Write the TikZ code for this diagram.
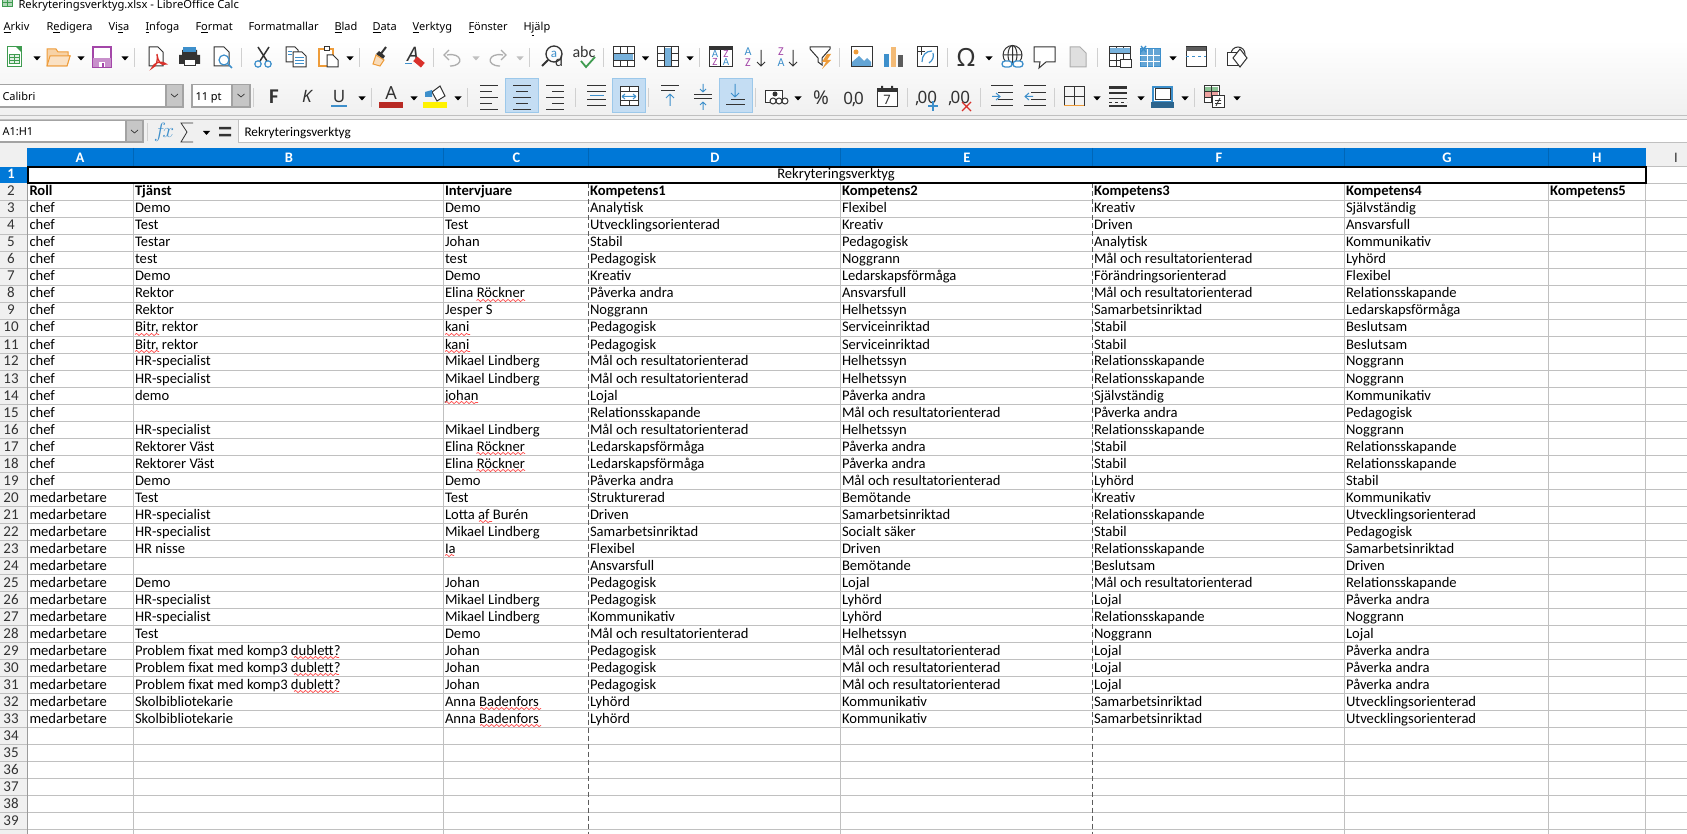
\documentclass[tikz,border=0pt]{standalone}
\usepackage{fontspec}
\setmainfont{Carlito}
\newfontfamily\uifont{Noto Sans}
\usetikzlibrary{decorations.pathmorphing}
\definecolor{gridgray}{HTML}{C0C0C0}
\definecolor{sepgray}{HTML}{D0D0D0}
\definecolor{barbg}{HTML}{F0F0F0}
\definecolor{headblue}{HTML}{0078D7}
\definecolor{hlfill}{HTML}{C4DDF3}
\definecolor{hlline}{HTML}{9CC8EA}
\definecolor{iconblue}{HTML}{3D8FCB}
\definecolor{iconorange}{HTML}{EE9C3A}
\definecolor{iconpurple}{HTML}{A346A8}
\definecolor{icongreen}{HTML}{3E9B4F}
\definecolor{icondark}{HTML}{333333}
\definecolor{iconred}{HTML}{D9312B}
\tikzset{
  cell/.style={anchor=base west,inner sep=0pt,font=\fontsize{14.6}{17}\selectfont},
  cellbold/.style={cell,font=\fontsize{14.6}{17}\selectfont\bfseries},
  rownum/.style={anchor=base,inner sep=0pt,text=icondark,font=\fontsize{15}{17}\selectfont},
  colnum/.style={anchor=base,inner sep=0pt,text=white,font=\fontsize{14.5}{17}\selectfont\bfseries},
  menuitem/.style={anchor=base west,inner sep=0pt,text=black,font=\uifont\fontsize{11}{14}\selectfont},
  uitext/.style={anchor=base west,inner sep=0pt,text=black,font=\fontsize{14}{17}\selectfont},
  squiggle/.style={draw=red!70!white,line width=.7pt,decorate,decoration={snake,amplitude=1.1pt,segment length=5pt}},
  icon/.style={draw=icondark,line width=1pt},
  combo/.style={fill=white,draw=gridgray!85!black,line width=1.6pt},
  combobtn/.style={fill=gridgray!90!white,draw=gridgray!85!black,line width=1.6pt}
}
\begin{document}
\begin{tikzpicture}[x=1pt,y=-1pt,line width=1pt]
\useasboundingbox (0,0) rectangle (1687,834);
\clip (0,0) rectangle (1687,834);
\fill[white] (0,0) rectangle (1687,834);
\shade[top color=white,bottom color=barbg] (0,40) rectangle (1687,116);

% title and menu
\fill[icongreen!40!white] (2,0) rectangle (12,7);
\draw[icongreen] (2,-1) rectangle (12,7) (2,3) -- (12,3) (7,0) -- (7,7);
\node[menuitem,font=\uifont\fontsize{11.2}{14}\selectfont] (title) at (18,8.5) {Rekryteringsverktyg.xlsx - LibreOffice Calc};
\node[menuitem] (arkiv) at (3,31) {\underline{A}rkiv};
\node[menuitem] (redigera) at (46,31) {R\underline{e}digera};
\node[menuitem] (visa) at (108,31) {Vi\underline{s}a};
\node[menuitem] (infoga) at (145,31) {\underline{I}nfoga};
\node[menuitem] (format) at (195,31) {F\underline{o}rmat};
\node[menuitem] (formatmallar) at (248,31) {Formatmallar};
\node[menuitem] (blad) at (334,31) {\underline{B}lad};
\node[menuitem] (data) at (372,31) {\underline{D}ata};
\node[menuitem] (verktyg) at (412,31) {\underline{V}erktyg};
\node[menuitem] (fonster) at (468,31) {\underline{F}önster};
\node[menuitem] (hjalp) at (523,31) {H\underline{j}älp};

% separators and dropdown arrows
\foreach \x in {134,241,359,433,529,603,699.5,839,947,1097.5,1215}
  \draw[sepgray] (\x,48) -- (\x,67);
\foreach \x in {253,371,467,575,648.5,755.5,907,980.5,1054,1194.5}
  \draw[sepgray] (\x,88) -- (\x,107);
\foreach \x/\y in {37/58,81/58,125/58,350/58,645.5/58,690/58,989/58,1173/58,362/98,414/98,458/98,798/98,1097/98,1141/98,1185/98,1237/98}
  \fill[black] (\x-3.5,\y-1.5) -- (\x+3.5,\y-1.5) -- (\x,\y+2.5) -- cycle;
\foreach \x in {476,520}
  \fill[gridgray] (\x-3.5,56.5) -- (\x+3.5,56.5) -- (\x,60.5) -- cycle;

% first toolbar
\draw[icongreen,fill=white] (7,47) rectangle (21,67);
\fill[icongreen] (16,47) -- (21,47) -- (21,52) -- cycle;
\draw[icongreen,fill=icongreen!15!white] (9,55) rectangle (19,64) (9,58) -- (19,58) (9,61) -- (19,61) (14,55) -- (14,64);
\draw[iconorange,fill=iconorange!45!white] (47,66) -- (47,49) -- (56,49) -- (58,52) -- (68,52) -- (68,56) -- (70,56) -- (67,66) -- cycle;
\draw[iconorange,fill=iconorange!30!white] (47,66) -- (50,56) -- (70,56) -- (67,66) -- cycle;
\draw[iconpurple,line width=1.4pt,fill=white] (93,47) rectangle (111,67);
\fill[iconpurple!60!white] (93,58) rectangle (111,67);
\fill[white] (99,62) rectangle (105,67);
\fill[iconpurple] (102,63) rectangle (104,67);
\draw[icon,fill=white] (149,47) -- (158,47) -- (163,52) -- (163,66) -- (149,66) -- cycle;
\draw[iconred,line width=1.3pt] (157,54) .. controls (158,62) and (161,66) .. (166,64) .. controls (160,60) and (154,63) .. (152,68) .. controls (157,66) and (158,60) .. (157,54);
\fill[icondark] (182,50) rectangle (197,55) (179,55) rectangle (200,64);
\fill[iconblue] (183,47) rectangle (196,52);
\draw[white,fill=white] (184,60) rectangle (195,67);
\draw[icondark] (184,60) rectangle (195,66);
\draw[icon,fill=white] (214,47) -- (224,47) -- (229,52) -- (229,66) -- (214,66) -- cycle;
\draw[iconblue,line width=1.2pt,fill=white] (224,60) circle (5);
\draw[iconblue,line width=1.5pt] (228,64) -- (232,68);
\draw[icondark,line width=1.5pt] (258,47) -- (267,61) (269,47) -- (260,61);
\draw[iconblue,line width=1.2pt] (258,64) circle (3.2) (268,64) circle (3.2);
\draw[icon,fill=white] (286,47) -- (295,47) -- (298,50) -- (298,62) -- (286,62) -- cycle;
\draw[icon,fill=white] (293,52) -- (302,52) -- (306,56) -- (306,67) -- (293,67) -- cycle;
\draw[iconblue] (295,58) -- (304,58) (295,61) -- (304,61) (295,64) -- (304,64) (288,52) -- (292,52) (288,55) -- (292,55);
\draw[iconorange,fill=white,line width=1.2pt] (319,49) rectangle (333,66);
\draw[icondark,fill=white] (324,47) rectangle (329,51);
\draw[icondark,fill=white] (327,55) -- (333,55) -- (338,60) -- (338,67) -- (327,67) -- cycle;
\draw[icondark,line width=2pt] (386,47) -- (380,55);
\fill[icondark] (376,54) -- (383,59) -- (385,56) -- (379,51) -- cycle;
\draw[iconorange,fill=iconorange!35!white] (376,55) -- (384,60) -- (380,66) -- (373,64) -- cycle;
\node[inner sep=0pt,anchor=base,text=icondark,font=\uifont\itshape\fontsize{20}{20}\selectfont] (clearletter) at (413,62) {A};
\draw[iconblue] (405,64) -- (412,64);
\fill[iconred,rotate around={-40:(419,62)}] (414,59) rectangle (424,65);
\draw[gridgray!90!black,line width=1.3pt] (447,55) .. controls (462,52) and (465,66) .. (450,66);
\draw[gridgray!90!black,line width=1.3pt] (449,50) -- (444,55) -- (449,60);
\draw[gridgray!90!black,line width=1.3pt] (503,55) .. controls (488,52) and (485,66) .. (500,66);
\draw[gridgray!90!black,line width=1.3pt] (501,50) -- (506,55) -- (501,60);
\draw[icondark,line width=1.3pt] (554,54) circle (8);
\draw[icondark,line width=2pt] (548,60) -- (542,66);
\node[inner sep=0pt,anchor=base,text=iconblue,font=\fontsize{13}{13}\selectfont] (finda) at (554,58) {a};
\node[inner sep=0pt,anchor=base,text=icondark,font=\fontsize{15}{15}\selectfont] (findd) at (559,67) {d};
\node[inner sep=0pt,anchor=base west,text=icondark,font=\fontsize{16}{16}\selectfont] (abc) at (572,58) {abc};
\draw[icongreen,line width=1.8pt] (581,61) -- (586,67) -- (595,57);

% table and sort icons
\foreach \x in {613,657,1109}{
  \draw[icon,fill=white] (\x,47) rectangle (\x+21,67);
  \draw[icondark,line width=.7pt] (\x,53.5) -- (\x+21,53.5) (\x,60) -- (\x+21,60) (\x+7,47) -- (\x+7,67) (\x+14,47) -- (\x+14,67);
}
\fill[iconblue!70!white] (614,54) rectangle (633,60);
\fill[iconblue!70!white] (664.5,48) rectangle (671,66);
\fill[iconblue!70!white] (1110,48) rectangle (1130,53);
\draw[icon,fill=white] (1120,60) rectangle (1131,68);
\draw[icon,fill=white] (709,47) rectangle (732,67);
\fill[icondark] (709,47) rectangle (732,50);
\draw (720.5,50) -- (720.5,67);
\node[inner sep=0pt,anchor=base,text=iconblue,font=\fontsize{11}{11}\selectfont] (sortA) at (715,58) {A};
\node[inner sep=0pt,anchor=base,text=iconpurple,font=\fontsize{11}{11}\selectfont] (sortB) at (715,66) {Z};
\node[inner sep=0pt,anchor=base,text=iconpurple,font=\fontsize{11}{11}\selectfont] (sortC) at (726,58) {Z};
\node[inner sep=0pt,anchor=base,text=iconblue,font=\fontsize{11}{11}\selectfont] (sortD) at (726,66) {A};
\node[inner sep=0pt,anchor=base,text=iconblue,font=\fontsize{12}{12}\selectfont] (ascA) at (748,56) {A};
\node[inner sep=0pt,anchor=base,text=iconpurple,font=\fontsize{12}{12}\selectfont] (ascZ) at (748,67) {Z};
\node[inner sep=0pt,anchor=base,text=iconpurple,font=\fontsize{12}{12}\selectfont] (descZ) at (781,56) {Z};
\node[inner sep=0pt,anchor=base,text=iconblue,font=\fontsize{12}{12}\selectfont] (descA) at (781,67) {A};
\foreach \x in {761,793}{
  \draw[icondark] (\x,50) -- (\x,66) (\x-4,62) -- (\x,66) -- (\x+4,62);
}
\draw[icon,fill=white] (810,47) -- (830,47) -- (830,49) -- (822,58) -- (822,65) -- (818,62) -- (818,58) -- (810,49) -- cycle;
\fill[iconorange] (827,54) -- (822,62) -- (826,62) -- (822,69) -- (831,60) -- (827,60) -- (831,54) -- cycle;

% insert icons
\draw[icon,fill=white] (851,47) rectangle (872,67);
\fill[iconblue!80!white] (852,66) -- (852,62) -- (859,56) -- (864,61) -- (867,58) -- (871,62) -- (871,66) -- cycle;
\fill[iconorange] (856,52) circle (2.5);
\fill[iconblue] (884,54) rectangle (889,67);
\fill[iconorange!70!white] (891,47) rectangle (896,67);
\fill[icondark!80!white] (898,55) rectangle (903,67);
\draw[icon,fill=white] (917,47) rectangle (937,67);
\draw[iconblue,line width=1.2pt] (922,62) .. controls (922,55) and (926,51) .. (932,51) (929,63) .. controls (933,60) and (934,57) .. (933,53);
\draw[icondark,line width=.7pt] (917,51) -- (925,51) (921,47) -- (921,55);
\node[inner sep=0pt,anchor=base,text=icondark,font=\uifont\fontsize{25}{25}\selectfont] (omega) at (966,67) {Ω};
\draw[icondark] (1012.5,55) circle (9.5) (1003,55) -- (1022,55) (1012.5,46) -- (1012.5,64);
\draw[icondark] (1012.5,55) ellipse (4.5 and 9.5);
\draw[iconblue,line width=1.3pt,fill=white,rounded corners=3pt] (1002,61) rectangle (1012,67) (1013,61) rectangle (1023,67);
\draw[icon,fill=white] (1034,47) -- (1055,47) -- (1055,62) -- (1046,62) -- (1039,68) -- (1040,62) -- (1034,62) -- cycle;
\draw[gridgray!90!black,fill=gridgray!50!white] (1070,47) -- (1080,47) -- (1086,53) -- (1086,67) -- (1070,67) -- cycle;
\draw[iconblue,fill=iconblue!80!white] (1140,49) rectangle (1160,67);
\draw[white,line width=.7pt] (1140,55) -- (1160,55) (1140,61) -- (1160,61) (1147,49) -- (1147,67) (1153,49) -- (1153,67);
\draw[iconblue,line width=1.3pt] (1141,46) -- (1146,52) (1146,46) -- (1141,52);
\draw[icon,fill=white] (1186,47) rectangle (1206,67);
\fill[icondark!80!white] (1186,47) rectangle (1206,51);
\draw[iconblue,dashed] (1186,57) -- (1206,57);
\draw[icon,fill=white] (1238,54) circle (7);
\draw[icon,fill=white] (1227,53) rectangle (1239,66);
\draw[icon,fill=white] (1240,49) -- (1247,58) -- (1240,67) -- (1233,58) -- cycle;

% second toolbar
\draw[combo] (-2,84.5) rectangle (183,107);
\draw[combobtn] (166,84.5) rectangle (183,107);
\draw[combo] (192,84.5) rectangle (250,107);
\draw[combobtn] (232,84.5) rectangle (250,107);
\foreach \x in {174.5,241}
  \draw[icondark,line width=.7pt] (\x-3.5,94) -- (\x,97) -- (\x+3.5,94);
\node[menuitem] (fontname) at (2,101) {Calibri};
\node[menuitem] (fontsize) at (195,101) {11 pt};
\node[inner sep=0pt,anchor=base,text=icondark,font=\bfseries\fontsize{21}{21}\selectfont] (bold) at (274,104) {F};
\node[inner sep=0pt,anchor=base,text=icondark,font=\uifont\itshape\fontsize{17}{17}\selectfont] (italic) at (307,103) {K};
\node[inner sep=0pt,anchor=base,text=icondark,font=\uifont\fontsize{17}{17}\selectfont] (under) at (339,103) {U};
\draw[iconblue,line width=1.2pt] (331,106) -- (347,106);
\node[inner sep=0pt,anchor=base,text=icondark,font=\uifont\fontsize{18}{18}\selectfont] (fontcolor) at (391,100) {A};
\fill[iconred!85!black] (379,102) rectangle (403,108);
\draw[icondark,fill=white] (432,92) -- (440,86) -- (445,96) -- (437,101) -- cycle;
\fill[iconblue] (425,92) -- (432,90) -- (432,97) -- (425,97) -- cycle;
\fill[yellow] (423,102) rectangle (447,108);
\fill[hlfill,draw=hlline] (505,79) rectangle (538,113);
\fill[hlfill,draw=hlline] (612,79) rectangle (645,113);
\fill[hlfill,draw=hlline] (719,79) rectangle (752,113);
% text alignment lines
\foreach \y/\w in {86/18,92/12,98/18,104/12,110/18}{
  \draw[icondark] (480,\y) -- (480+\w,\y);
  \draw[icondark] (522-\w/2,\y) -- (522+\w/2,\y);
  \draw[icondark] (564-\w,\y) -- (564,\y);
}
\foreach \y in {86,92,100,106}
  \draw[icondark] (587,\y) -- (606,\y);
\draw[iconblue] (590,96) -- (604,96);
\draw[icon,fill=white] (620,87) rectangle (638,106);
\draw[icondark] (620,92) -- (638,92) (620,101) -- (638,101) (629,87) -- (629,92) (629,101) -- (629,106);
\draw[iconblue] (622,96.5) -- (636,96.5) (622,96.5) -- (625,94) (622,96.5) -- (625,99) (636,96.5) -- (633,94) (636,96.5) -- (633,99);
\draw[icondark] (661,86) -- (679,86) (661,91) -- (675,91);
\draw[iconblue] (670,106) -- (670,94) (666,98) -- (670,94) (674,98) -- (670,94);
\draw[icondark] (694,95) -- (712,95) (694,99) -- (712,99);
\draw[iconblue] (703,84) -- (703,92) (700,89) -- (703,92) (706,89) -- (703,92) (703,110) -- (703,102) (700,105) -- (703,102) (706,105) -- (703,102);
\draw[iconblue] (735,84) -- (735,97) (731,93) -- (735,97) (739,93) -- (735,97);
\draw[icondark] (731,100) -- (745,100) (726,105) -- (745,105);
\draw[icon,fill=white] (765,91) rectangle (782,103);
\fill[icondark] (775,94) circle (2.5);
\draw[icondark,fill=white] (773,101) circle (3) (779,101) circle (3) (785,101) circle (3);
\node[inner sep=0pt,anchor=base,text=icondark,font=\uifont\fontsize{19}{19}\selectfont] (percent) at (821,105) {\%};
\node[inner sep=0pt,anchor=base,text=icondark,font=\uifont\fontsize{17}{17}\selectfont] (number) at (853.5,105) {0\kern-1pt,\kern-2.5pt0};
\draw[icon,fill=white] (877,89) rectangle (897,107);
\fill[icondark] (877,89) rectangle (897,92) (881,86) rectangle (883,90) (891,86) rectangle (893,90);
\node[inner sep=0pt,anchor=base,text=icondark,font=\uifont\fontsize{13}{13}\selectfont] (date) at (887,105) {7};
\node[inner sep=0pt,anchor=base,text=icondark,font=\uifont\fontsize{17}{17}\selectfont] (adddec) at (926,104) {,\kern-2pt00};
\draw[iconblue,line width=1.3pt] (933,101) -- (933,111) (928,106) -- (938,106);
\node[inner sep=0pt,anchor=base,text=icondark,font=\uifont\fontsize{17}{17}\selectfont] (deldec) at (959,104) {,\kern-2pt00};
\draw[iconred,line width=1.3pt] (962,102) -- (971,111) (971,102) -- (962,111);
\foreach \y/\a in {86/0,93/7,100/7,106/0}{
  \draw[icondark] (991+\a,\y) -- (1013,\y);
  \draw[icondark] (1024+\a,\y) -- (1046,\y);
}
\draw[iconblue] (992,96.5) -- (1000,96.5) (996,93) -- (1000,96.5) -- (996,100);
\draw[iconblue] (1025,96.5) -- (1033,96.5) (1029,93) -- (1025,96.5) -- (1029,100);
\draw[icondark] (1064,87) -- (1084,87) -- (1084,106) (1064,106) -- (1064,87) (1064,96.5) -- (1084,96.5) (1074,87) -- (1074,106);
\draw[iconorange] (1064,106) -- (1084,106);
\draw[icondark,line width=3pt] (1109,88) -- (1127,88);
\draw[icondark,line width=2pt] (1109,93.5) -- (1127,93.5);
\draw[icondark] (1109,98.5) -- (1127,98.5);
\draw[icondark,dashed] (1109,102.5) -- (1127,102.5);
\draw[icondark,line width=1.5pt] (1109,106) -- (1127,106);
\draw[iconblue,line width=1.2pt,fill=white] (1153,87) rectangle (1172,102);
\draw[icondark] (1155,89) rectangle (1170,100);
\fill[iconblue!70!black] (1150.5,102) rectangle (1174,108);
\draw[icon,fill=white] (1204,86) rectangle (1219,103);
\fill[icongreen!60!white] (1205,87) rectangle (1218,91);
\fill[iconred!45!white] (1205,92) rectangle (1218,97);
\draw[icondark,line width=.7pt] (1204,91.5) -- (1219,91.5) (1204,97) -- (1219,97) (1211,86) -- (1211,103);
\draw[icon,fill=white] (1212,96) rectangle (1224,108);
\draw[icondark,line width=.8pt] (1215,100.5) -- (1221,100.5) (1215,103.5) -- (1221,103.5) (1216,106) -- (1220,98);

% formula bar
\fill[barbg] (0,116) rectangle (1687,148);
\draw[gridgray] (0,116) -- (1687,116) (0,120) -- (1687,120);
\draw[combo] (-2,120.5) rectangle (143,142);
\draw[combobtn] (126,120.5) rectangle (143,142);
\draw[icondark,line width=.7pt] (131,130) -- (134.5,133) -- (138,130);
\node[menuitem] (namebox) at (2,136) {A1:H1};
\draw[sepgray] (147,123) -- (147,141);
\node[inner sep=0pt,anchor=base,text=iconblue,font=\itshape\fontsize{20}{20}\selectfont] (fx) at (164,138) {$f\!x$};
\draw[icondark,line width=.8pt] (193,123) -- (181,123) -- (187,132) -- (181,142) -- (193,142);
\fill[black] (203,131) -- (210,131) -- (206.5,135) -- cycle;
\fill[icondark] (219,127) rectangle (231,129.5) (219,134) rectangle (231,136.5);
\fill[white] (238,120.5) rectangle (1687,143);
\draw[gridgray] (238,143) -- (238,120.5) (238,143) -- (1687,143);
\node[uitext] (formula) at (244,137) {\fontsize{13.2}{16}\selectfont Rekryteringsverktyg};

% headers of the sheet
\fill[barbg] (0,147) rectangle (1687,167);
\fill[barbg] (0,167) rectangle (27,834);
\fill[headblue] (27,148) rectangle (1646,167);
\fill[headblue] (0,167) rectangle (27,183);
\foreach \x in {133.5,443,588.5,840.5,1092.5,1344.5,1548.5}
  \draw[headblue!85!black] (\x,148) -- (\x,167);
\node[colnum] (colA) at (80,163) {A};
\node[colnum] (colB) at (289,163) {B};
\node[colnum] (colC) at (516.5,163) {C};
\node[colnum] (colD) at (715,163) {D};
\node[colnum] (colE) at (967,163) {E};
\node[colnum] (colF) at (1219,163) {F};
\node[colnum] (colG) at (1447,163) {G};
\node[colnum] (colH) at (1597,163) {H};
\node[colnum,text=icondark,font=\fontsize{14.5}{17}\selectfont] (colI) at (1676,163) {I};
\draw[gridgray] (1646,167) -- (1687,167);

% grid
\foreach \n in {3,...,40}
  \draw[gridgray] (0,149.5+17*\n) -- (1687,149.5+17*\n);
\draw[gridgray] (1646,183.5) -- (1687,183.5);
\foreach \x in {133.5,443,840.5,1344.5,1548.5,1645.5}
  \draw[gridgray] (\x,183.5) -- (\x,834);
\foreach \x in {588.5,1092.5}
  \draw[icondark!80!white,dash pattern=on 5pt off 3pt] (\x,183.5) -- (\x,834);
\draw[gridgray!80!black] (27,167) -- (27,834);
\draw[black,line width=2pt] (27.5,167.5) rectangle (1645.5,183);
\node[cell,anchor=base] (sheettitle) at (836,179) {Rekryteringsverktyg};

% row numbers
\node[colnum] (row1) at (11,179) {1};
\foreach \n in {2,...,39}
  \node[rownum] (row\n) at (11,162+17*\n) {\n};

% table
\node[cellbold] (headA) at (29,196) {Roll};
\node[cellbold] (headB) at (134.5,196) {Tjänst};
\node[cellbold] (headC) at (444.5,196) {Intervjuare};
\node[cellbold] (headD) at (589.5,196) {Kompetens1};
\node[cellbold] (headE) at (841.5,196) {Kompetens2};
\node[cellbold] (headF) at (1093.5,196) {Kompetens3};
\node[cellbold] (headG) at (1345.5,196) {Kompetens4};
\node[cellbold] (headH) at (1549.5,196) {Kompetens5};
\foreach \roll/\tjanst/\intervjuare/\kompA/\kompB/\kompC/\kompD [count=\n from 3] in {
  chef/Demo/Demo/Analytisk/Flexibel/Kreativ/Självständig,
  chef/Test/Test/Utvecklingsorienterad/Kreativ/Driven/Ansvarsfull,
  chef/Testar/Johan/Stabil/Pedagogisk/Analytisk/Kommunikativ,
  chef/test/test/Pedagogisk/Noggrann/Mål och resultatorienterad/Lyhörd,
  chef/Demo/Demo/Kreativ/Ledarskapsförmåga/Förändringsorienterad/Flexibel,
  chef/Rektor/Elina Röckner/Påverka andra/Ansvarsfull/Mål och resultatorienterad/Relationsskapande,
  chef/Rektor/Jesper S/Noggrann/Helhetssyn/Samarbetsinriktad/Ledarskapsförmåga,
  chef/{Bitr, rektor}/kani/Pedagogisk/Serviceinriktad/Stabil/Beslutsam,
  chef/{Bitr, rektor}/kani/Pedagogisk/Serviceinriktad/Stabil/Beslutsam,
  chef/HR-specialist/Mikael Lindberg/Mål och resultatorienterad/Helhetssyn/Relationsskapande/Noggrann,
  chef/HR-specialist/Mikael Lindberg/Mål och resultatorienterad/Helhetssyn/Relationsskapande/Noggrann,
  chef/demo/johan/Lojal/Påverka andra/Självständig/Kommunikativ,
  chef///Relationsskapande/Mål och resultatorienterad/Påverka andra/Pedagogisk,
  chef/HR-specialist/Mikael Lindberg/Mål och resultatorienterad/Helhetssyn/Relationsskapande/Noggrann,
  chef/Rektorer Väst/Elina Röckner/Ledarskapsförmåga/Påverka andra/Stabil/Relationsskapande,
  chef/Rektorer Väst/Elina Röckner/Ledarskapsförmåga/Påverka andra/Stabil/Relationsskapande,
  chef/Demo/Demo/Påverka andra/Mål och resultatorienterad/Lyhörd/Stabil,
  medarbetare/Test/Test/Strukturerad/Bemötande/Kreativ/Kommunikativ,
  medarbetare/HR-specialist/Lotta af Burén/Driven/Samarbetsinriktad/Relationsskapande/Utvecklingsorienterad,
  medarbetare/HR-specialist/Mikael Lindberg/Samarbetsinriktad/Socialt säker/Stabil/Pedagogisk,
  medarbetare/HR nisse/Ia/Flexibel/Driven/Relationsskapande/Samarbetsinriktad,
  medarbetare///Ansvarsfull/Bemötande/Beslutsam/Driven,
  medarbetare/Demo/Johan/Pedagogisk/Lojal/Mål och resultatorienterad/Relationsskapande,
  medarbetare/HR-specialist/Mikael Lindberg/Pedagogisk/Lyhörd/Lojal/Påverka andra,
  medarbetare/HR-specialist/Mikael Lindberg/Kommunikativ/Lyhörd/Relationsskapande/Noggrann,
  medarbetare/Test/Demo/Mål och resultatorienterad/Helhetssyn/Noggrann/Lojal,
  medarbetare/Problem fixat med komp3 dublett?/Johan/Pedagogisk/Mål och resultatorienterad/Lojal/Påverka andra,
  medarbetare/Problem fixat med komp3 dublett?/Johan/Pedagogisk/Mål och resultatorienterad/Lojal/Påverka andra,
  medarbetare/Problem fixat med komp3 dublett?/Johan/Pedagogisk/Mål och resultatorienterad/Lojal/Påverka andra,
  medarbetare/Skolbibliotekarie/Anna Badenfors/Lyhörd/Kommunikativ/Samarbetsinriktad/Utvecklingsorienterad,
  medarbetare/Skolbibliotekarie/Anna Badenfors/Lyhörd/Kommunikativ/Samarbetsinriktad/Utvecklingsorienterad
}{
  \node[cell] (roll\n) at (29,162+17*\n) {\roll};
  \node[cell] (tjanst\n) at (134.5,162+17*\n) {\tjanst};
  \node[cell] (intervjuare\n) at (444.5,162+17*\n) {\intervjuare};
  \node[cell] (kompA\n) at (589.5,162+17*\n) {\kompA};
  \node[cell] (kompB\n) at (841.5,162+17*\n) {\kompB};
  \node[cell] (kompC\n) at (1093.5,162+17*\n) {\kompC};
  \node[cell] (kompD\n) at (1345.5,162+17*\n) {\kompD};
}

% spell check marks
\foreach \n/\xa/\xb in {8/476.5/525,17/476.5/525,18/476.5/525,10/135/159,11/135/159,10/445/470,11/445/470,14/445/478,21/479/492,23/445/454,29/294/339,30/294/339,31/294/339,32/480/541,33/480/541}
  \draw[squiggle] (\xa,164.5+17*\n) -- (\xb,164.5+17*\n);
\end{tikzpicture}
\end{document}
